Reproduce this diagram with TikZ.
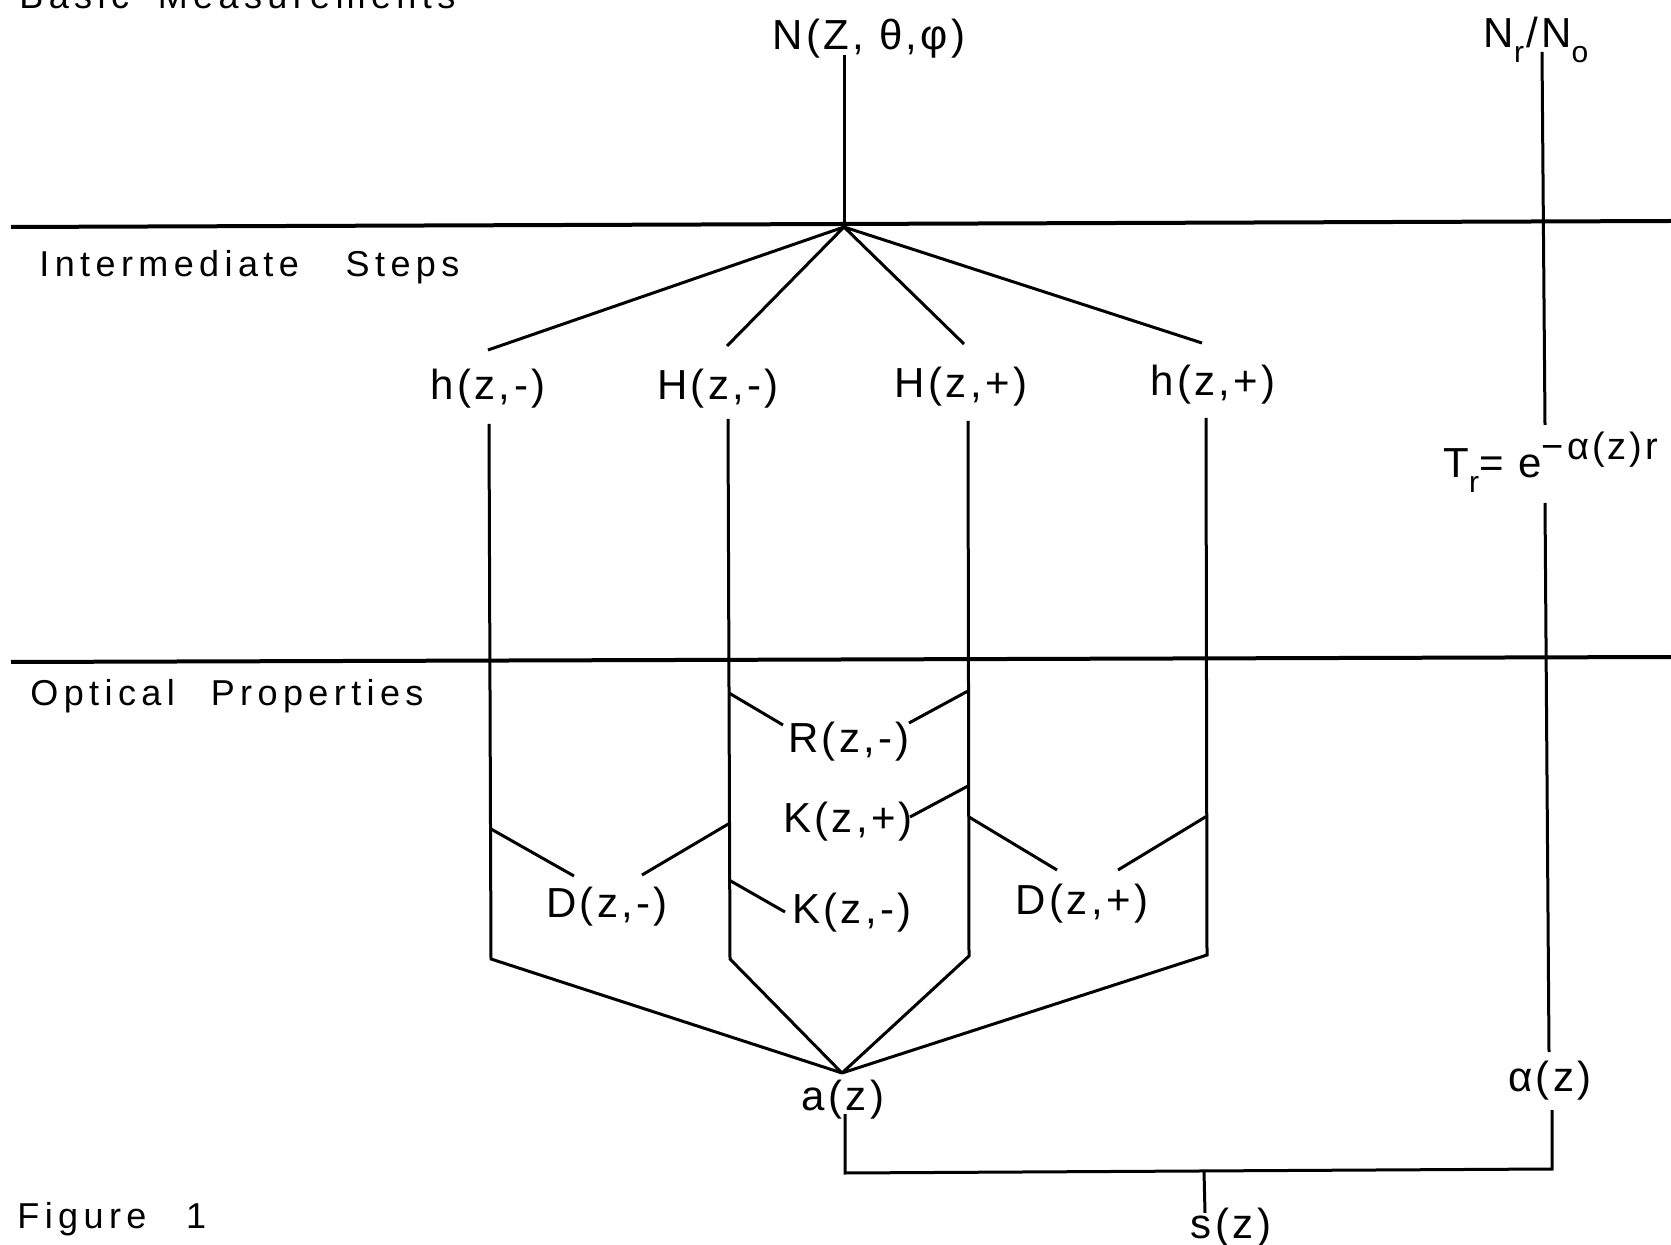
\documentclass[tikz,border=0pt]{standalone}
\usepackage{fontspec}
\setmainfont{Liberation Sans}
\newfontfamily\lettering[LetterSpace=8]{Liberation Sans}
\newfontfamily\headlettering[LetterSpace=15]{Liberation Sans}
\newcommand{\lowr}[1]{\raisebox{-0.35em}{\fontsize{15}{15}\selectfont #1}}
\newcommand{\highr}[1]{\raisebox{0.45em}{\fontsize{19}{19}\selectfont #1}}

\begin{document}
\begin{tikzpicture}[x=0.5pt,y=-0.5pt,
  rule/.style={line width=2pt},
  wire/.style={line width=1.5pt},
  lbl/.style={font={\lettering\fontsize{21}{25}\selectfont}, inner sep=3pt, anchor=base},
  head/.style={font={\headlettering\fontsize{18}{22}\selectfont}, inner sep=0pt, anchor=base west}]
\useasboundingbox (0,0) rectangle (1671,1245);
\clip (0,0) rectangle (1671,1245);
\fill[white] (0,0) rectangle (1671,1245);
% section headings
\node[head] (basic) at (19,9) {Basic\hspace{0.8em}Measurements};
\node[head] (steps) at (39,277) {Intermediate\hspace{1.3em}Steps};
\node[head] (optics) at (30,705) {Optical\hspace{1em}Properties};
\node[head] (figno) at (17,1228) {Figure\hspace{1.1em}1};
% section rules
\coordinate (ruleAL) at (11,227);
\coordinate (ruleAR) at (1671,221);
\coordinate (ruleBL) at (11,662);
\coordinate (ruleBR) at (1671,657);
\draw[rule] (ruleAL) -- (ruleAR);
\draw[rule] (ruleBL) -- (ruleBR);
% quantities
\node[lbl] (N) at (869,50) {N(Z, θ,φ)};
\node[lbl] (ratio) at (1536,48) {N\lowr{r}\hspace{1pt}/N\lowr{o}};
\node[lbl] (hm) at (488,400) {h(z,-)};
\node[lbl] (Hm) at (718,400) {H(z,-)};
\node[lbl] (Hp) at (961,398) {H(z,+)};
\node[lbl] (hp) at (1213,396) {h(z,+)};
\node[lbl] (Rm) at (849,752) {R(z,-)};
\node[lbl] (Kp) at (848,832) {K(z,+)};
\node[lbl] (Km) at (852,923) {K(z,-)};
\node[lbl] (Dm) at (607,917) {D(z,-)};
\node[lbl] (Dp) at (1082,914) {D(z,+)};
\node[lbl] (a) at (843,1110) {a(z)};
\node[lbl] (alpha) at (1550,1091) {α(z)};
\node[lbl] (s) at (1231,1238) {s(z)};
\node[lbl, anchor=base west] (Tr) at (1437,478) {T\lowr{r}= e\highr{−α(z)r}};
% junctions
\coordinate (hub) at (844,227);
\coordinate (sink) at (842,1073);
\coordinate (Nfoot) at (844,55);
\coordinate (hmFan) at (488,350);
\coordinate (HmFan) at (727,346);
\coordinate (HpFan) at (964,344);
\coordinate (hpFan) at (1202,343);
\coordinate (hmTop) at (489,424);
\coordinate (hmBot) at (491,959);
\coordinate (HmTop) at (728,419);
\coordinate (HmBot) at (730,959);
\coordinate (HpTop) at (968,421);
\coordinate (HpBot) at (969,956);
\coordinate (hpTop) at (1206,418);
\coordinate (hpBot) at (1207,955);
% fan from the radiance
\draw[wire] (Nfoot) -- (hub);
\draw[wire] (hub) -- (hmFan);
\draw[wire] (hub) -- (HmFan);
\draw[wire] (hub) -- (HpFan);
\draw[wire] (hub) -- (hpFan);
% columns down to a(z)
\draw[wire] (hmTop) -- (hmBot) -- (sink);
\draw[wire] (HmTop) -- (HmBot) -- (sink);
\draw[wire] (HpTop) -- (HpBot) -- (sink);
\draw[wire] (hpTop) -- (hpBot) -- (sink);
% ticks to the optical properties
\coordinate (RmL) at (729,693);
\coordinate (RmLe) at (783,725);
\coordinate (RmR) at (968,691);
\coordinate (RmRe) at (909,723);
\coordinate (KpR) at (968,786);
\coordinate (KpRe) at (910,817);
\coordinate (KmL) at (729,880);
\coordinate (KmLe) at (785,912);
\coordinate (DmL) at (491,829);
\coordinate (DmLe) at (574,876);
\coordinate (DmR) at (730,823);
\coordinate (DmRe) at (642,875);
\coordinate (DpL) at (969,817);
\coordinate (DpLe) at (1057,870);
\coordinate (DpR) at (1207,816);
\coordinate (DpRe) at (1118,870);
\draw[wire] (RmL) -- (RmLe);
\draw[wire] (RmR) -- (RmRe);
\draw[wire] (KpR) -- (KpRe);
\draw[wire] (KmL) -- (KmLe);
\draw[wire] (DmL) -- (DmLe);
\draw[wire] (DmR) -- (DmRe);
\draw[wire] (DpL) -- (DpLe);
\draw[wire] (DpR) -- (DpRe);
% transmission branch
\coordinate (ratioFoot) at (1542,52);
\coordinate (TrHead) at (1545,425);
\coordinate (TrFoot) at (1545,503);
\coordinate (alphaHead) at (1549,1052);
\coordinate (alphaFoot) at (1552,1110);
\draw[wire] (ratioFoot) -- (TrHead);
\draw[wire] (TrFoot) -- (alphaHead);
% bracket to s(z)
\coordinate (aFoot) at (845,1114);
\coordinate (bracketL) at (845,1173);
\coordinate (bracketR) at (1552,1169);
\coordinate (sTop) at (1204,1171);
\coordinate (sFoot) at (1205,1213);
\draw[wire] (aFoot) -- (bracketL) -- (bracketR) -- (alphaFoot);
\draw[wire] (sTop) -- (sFoot);
\end{tikzpicture}
\end{document}
